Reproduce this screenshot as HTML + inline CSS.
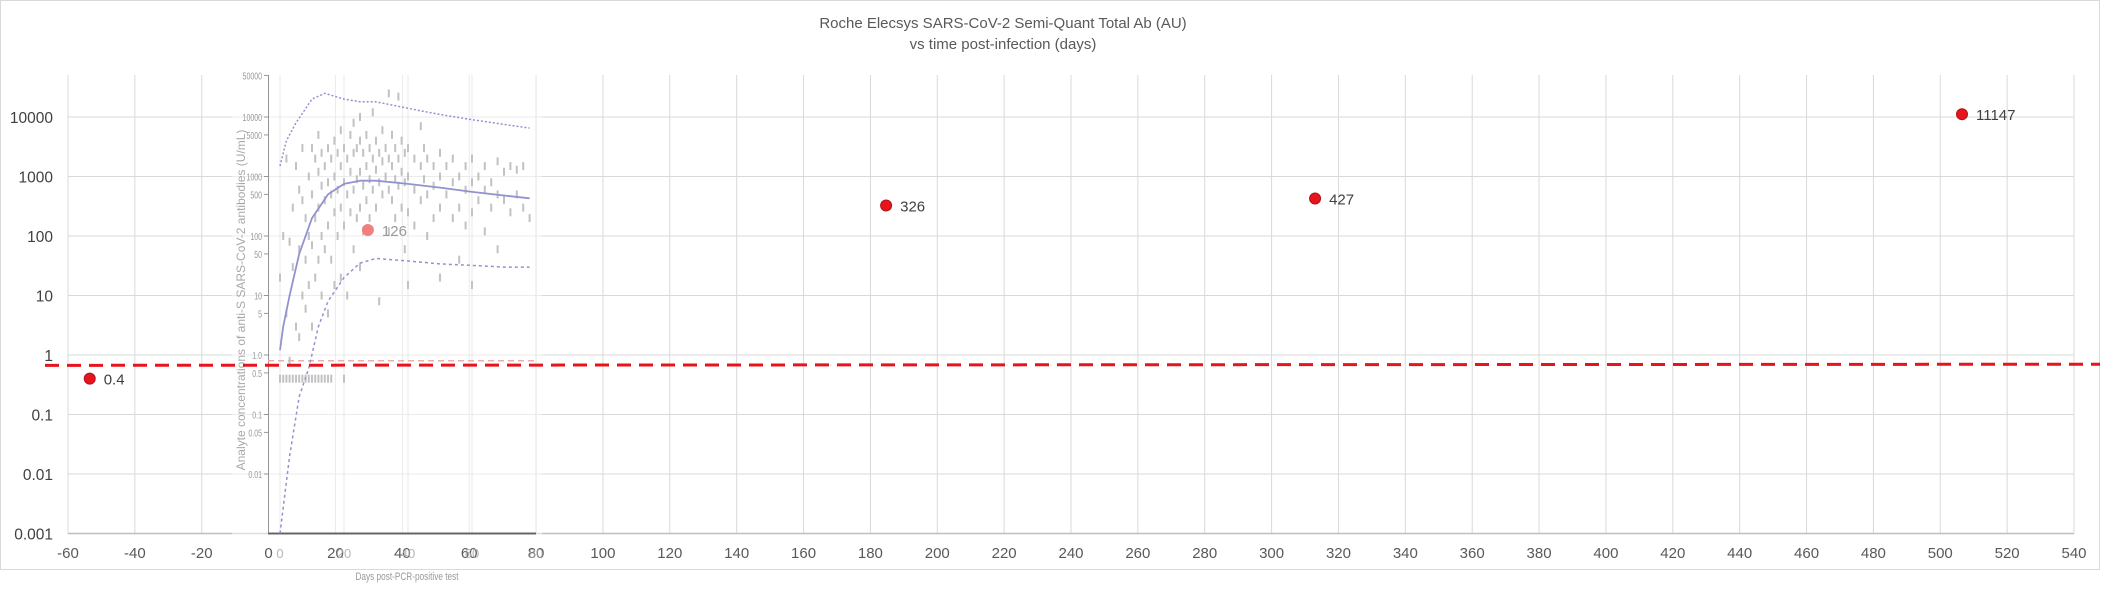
<!DOCTYPE html>
<html><head><meta charset="utf-8"><style>
html,body{margin:0;padding:0;background:#fff;}
svg{display:block;font-family:"Liberation Sans",sans-serif;}
</style></head><body>
<svg id="chart" width="2102" height="589" viewBox="0 0 2102 589" xmlns="http://www.w3.org/2000/svg">
<rect x="0.5" y="0.5" width="2099" height="569" fill="#fff" stroke="#d9d9d9"/>
<text x="1003" y="28" text-anchor="middle" font-size="15" fill="#595959">Roche Elecsys SARS-CoV-2 Semi-Quant Total Ab (AU)</text>
<text x="1003" y="49" text-anchor="middle" font-size="15" fill="#595959">vs time post-infection (days)</text>
<g id="grid"></g>
<g id="inset" opacity="0.85"></g>
<g id="marks"></g>
</svg>
<script>
const xTicks=[-60,-40,-20,0,20,40,60,80,100,120,140,160,180,200,220,240,260,280,300,320,340,360,380,400,420,440,460,480,500,520,540];
const yTickLabels=["0.001","0.01","0.1","1","10","100","1000","10000"];
const yTickValues=[0.001,0.01,0.1,1,10,100,1000,10000];
const pointDays=[-53.5,29.7,184.7,313,506.5];
const pointValues=[0.4,126,326,427,11147];
const pointLabels=["0.4","126","326","427","11147"];
const thresholdValues=[0.67,0.70];
// inset figure data
const insetXTicks=[0,20,40,60,80];
const insetYTickValues=[50000,10000,5000,1000,500,100,50,10,5,1,0.5,0.1,0.05,0.01];
const insetYTickLabels=["50000","10000","5000","1000","500","100","50","10","5","1.0","0.5","0.1","0.05","0.01"];
const medianDays=[0,1,3,6,10,15,20,25,30,40,50,60,70,78];
const medianValues=[1.2,3,10,50,200,500,750,850,850,750,650,550,480,430];
const upperDays=[0,2,5,10,14,20,25,30,40,50,60,70,78];
const upperValues=[1500,4000,8000,20000,25000,20000,18000,18000,14000,11000,9000,7500,6500];
const lowerDays=[0,3,6,9,12,15,20,25,30,40,50,60,70,78];
const lowerValues=[0.001,0.02,0.2,0.6,3,8,20,35,42,38,34,32,30,30];
const scatterDays=[0,1,2,3,4,5,6,7,8,9,10,11,12,13,14,15,16,20,0,1,2,2,3,3,4,4,5,5,6,6,6,7,7,7,8,8,8,9,9,9,10,10,10,10,11,11,11,12,12,12,12,13,13,13,13,14,14,14,15,15,15,15,16,16,16,17,17,17,17,18,18,18,19,19,19,19,20,20,20,21,21,21,22,22,22,23,23,23,23,24,24,24,25,25,25,25,25,26,26,26,27,27,27,28,28,28,29,29,29,30,30,30,31,31,31,32,32,32,33,33,34,34,34,34,35,35,35,36,36,36,37,37,37,38,38,38,39,39,39,40,40,40,40,42,42,42,44,44,44,45,45,46,46,46,48,48,48,50,50,50,50,52,52,54,54,54,56,56,56,58,58,58,60,60,60,60,62,62,64,64,64,66,66,68,68,68,70,70,72,72,74,74,76,76,78];
const scatterValues=[0.4,0.4,0.4,0.4,0.4,0.4,0.4,0.4,0.4,0.4,0.4,0.4,0.4,0.4,0.4,0.4,0.4,0.4,20,100,5,2000,80,0.8,300,30,3,1500,600,60,2,10,400,3000,200,40,6,1000,100,15,3000,500,70,3,2000,200,20,5000,1200,300,40,2500,700,100,10,1500,400,60,3000,800,150,5,2000,500,40,4000,1000,250,15,2500,600,100,6000,1500,300,20,3000,800,150,2000,500,10,5000,1200,250,8000,2500,600,60,3000,900,200,10000,4000,1200,300,30,2500,700,120,5000,1500,400,3000,900,200,12000,2000,600,4000,1300,300,2500,800,8,6000,1800,500,3000,1000,25000,2000,600,120,5000,1500,400,3000,900,200,22000,2000,700,4000,1200,300,2500,800,60,3000,1000,250,15,2000,600,150,7000,1500,400,3000,900,2000,500,100,1500,700,200,2500,1000,300,20,1500,500,2000,800,200,1000,300,40,1500,600,150,2000,800,250,15,1000,400,1500,600,120,800,300,1800,500,60,1200,400,1500,250,1300,500,1500,300,200];

const NS='http://www.w3.org/2000/svg';
const X0=68,X1=2074,XMIN=-60,XMAX=540,YTOP=117,YSTEP=59.5;
function xs(d){return X0+(d-XMIN)*(X1-X0)/(XMAX-XMIN);}
function ys(v){return YTOP+(4-Math.log10(v))*YSTEP;}
const IX0=280,IPX=3.2;
function ixs(d){return IX0+d*IPX;}
function mk(tag,attrs,parent){const e=document.createElementNS(NS,tag);for(const k in attrs)e.setAttribute(k,attrs[k]);parent.appendChild(e);return e;}

const grid=document.getElementById('grid');
const PTOP=75,PBOT=ys(0.001);
xTicks.forEach(t=>{
  const l=mk('line',{x1:xs(t),x2:xs(t),y1:PTOP,y2:PBOT,stroke:'#d9d9d9','stroke-width':1},grid);
  
  
  const tx=mk('text',{x:xs(t),y:558,'text-anchor':'middle','font-size':15,fill:'#595959'},grid);
  tx.textContent=t;
  
  
});
yTickValues.forEach((v,i)=>{
  const l=mk('line',{x1:X0,x2:X1,y1:ys(v),y2:ys(v),stroke:'#d9d9d9','stroke-width':1},grid);
  
  
  const tx=mk('text',{x:53,y:ys(v)+6,'text-anchor':'end','font-size':15.5,fill:'#404040'},grid);
  tx.textContent=yTickLabels[i];
  
  
});
const ax=mk('line',{x1:X0,x2:X1,y1:PBOT,y2:PBOT,stroke:'#bfbfbf','stroke-width':1.5},grid);



// inset
const inset=document.getElementById('inset');
mk('rect',{x:232,y:72,width:310,height:468,fill:'#fff',opacity:0.55},inset);
insetXTicks.forEach(t=>{
  const l=mk('line',{x1:ixs(t),x2:ixs(t),y1:75,y2:PBOT,stroke:'#e6e6e6','stroke-width':1},inset);
  
  
  const tx=mk('text',{x:ixs(t),y:558,'text-anchor':'middle','font-size':13,fill:'#aaa','font-family':'Liberation Sans Narrow, Liberation Sans, sans-serif'},inset);
  tx.textContent=t;
  
  
});
insetYTickValues.forEach((v,i)=>{
  mk('line',{x1:264,x2:269,y1:ys(v),y2:ys(v),stroke:'#888','stroke-width':1},inset);
  const tx=mk('text',{x:262,y:ys(v)+4,'text-anchor':'end','font-size':10,fill:'#888',transform:`translate(${262*0.3},0) scale(0.7,1)`},inset);
  tx.setAttribute('x',262);
  tx.textContent=insetYTickLabels[i];
  
  
});
mk('line',{x1:268.5,x2:268.5,y1:75,y2:PBOT,stroke:'#888','stroke-width':1},inset);
const iax=mk('line',{x1:268,x2:536,y1:PBOT,y2:PBOT,stroke:'#555','stroke-width':2},inset);


const ilab=mk('text',{x:0,y:0,'text-anchor':'middle','font-size':12,fill:'#999',transform:'translate(245,300) rotate(-90)'},inset);
ilab.textContent='Analyte concentrations of anti-S SARS-CoV-2 antibodies (U/mL)';


const ixl=mk('text',{x:0,y:0,'text-anchor':'middle','font-size':11,fill:'#888',transform:'translate(407,580) scale(0.75,1)'},inset);
ixl.textContent='Days post-PCR-positive test';


mk('line',{x1:268,x2:536,y1:ys(0.8),y2:ys(0.8),stroke:'#e8a0a0','stroke-width':1.5,'stroke-dasharray':'6 4'},inset);
scatterDays.forEach((d,i)=>{
  const r=mk('rect',{x:ixs(d)-1,y:ys(scatterValues[i])-4,width:2,height:8,fill:'#b8b8b8'},inset);
  
  
});
function curve(days,vals,dash,name,w){
  const p=mk('path',{d:days.map((d,i)=>(i?'L':'M')+ixs(d).toFixed(1)+' '+ys(vals[i]).toFixed(1)).join(' '),fill:'none',stroke:'#8080c8','stroke-width':w,'stroke-dasharray':dash,'stroke-linejoin':'round'},inset);
  
  
}
curve(medianDays,medianValues,'none','inset-median-curve',1.8);
curve(upperDays,upperValues,'2 2','inset-upper-curve',1.5);
curve(lowerDays,lowerValues,'3 3','inset-lower-curve',1.5);

// main marks
const marks=document.getElementById('marks');
const th=mk('line',{x1:45,x2:2100,y1:ys(thresholdValues[0]),y2:ys(thresholdValues[1]),stroke:'#e8141c','stroke-width':3,'stroke-dasharray':'14 8'},marks);


pointDays.forEach((d,i)=>{
  const faded=(d>0&&d<80);
  const c=mk('circle',{cx:xs(d),cy:ys(pointValues[i]),r:5.5,fill:faded?'#f08080':'#e8141c',stroke:faded?'#f08080':'#b0101a','stroke-width':1},marks);
  
  
  const t=mk('text',{x:xs(d)+14,y:ys(pointValues[i])+6,'font-size':15,fill:faded?'#999':'#404040'},marks);
  t.textContent=pointLabels[i];
  
  
});
</script>
</body></html>
